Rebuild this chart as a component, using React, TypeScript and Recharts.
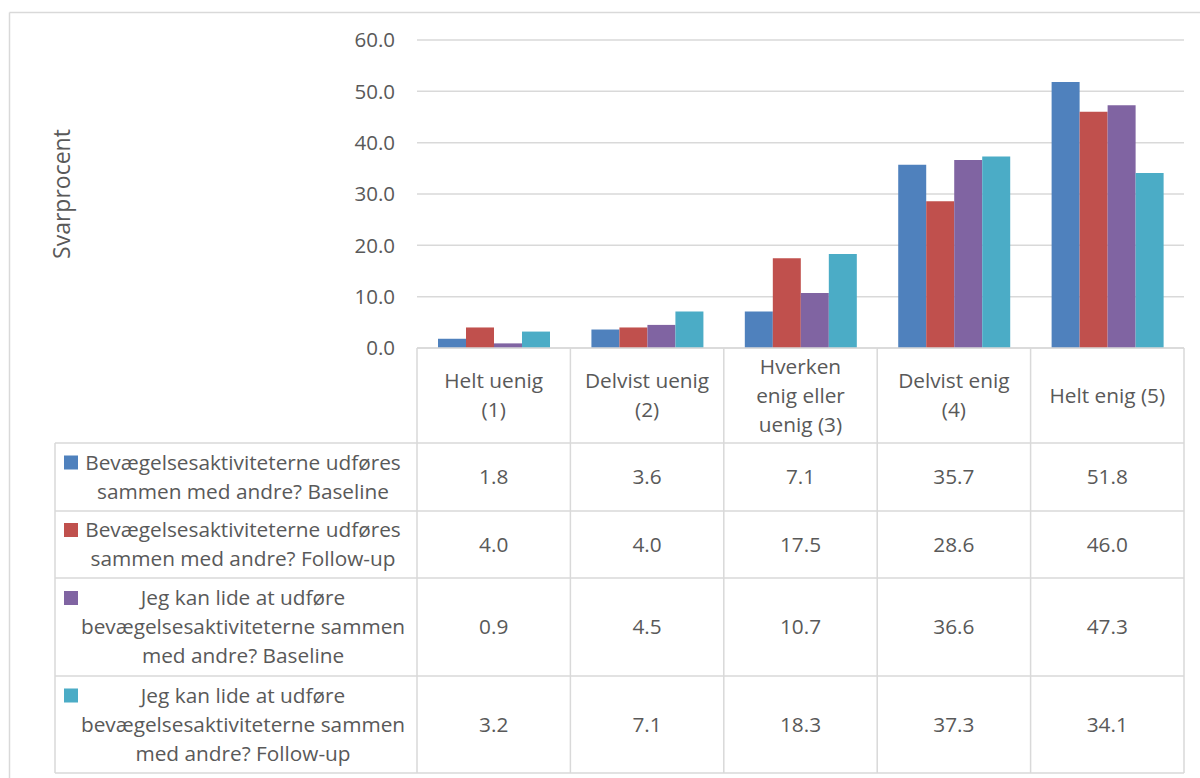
import React from 'react';
import { BarChart, Bar, XAxis, YAxis, CartesianGrid } from 'recharts';

// answer categories (x axis) and how they wrap in the table header
const categories = ['Helt uenig (1)', 'Delvist uenig (2)', 'Hverken enig eller uenig (3)', 'Delvist enig (4)', 'Helt enig (5)'];
const categoryLines = [['Helt uenig', '(1)'], ['Delvist uenig', '(2)'], ['Hverken', 'enig eller', 'uenig (3)'], ['Delvist enig', '(4)'], ['Helt enig (5)']];

// series values, in percent
const togetherBaseline = [1.8, 3.6, 7.1, 35.7, 51.8];
const togetherFollowUp = [4.0, 4.0, 17.5, 28.6, 46.0];
const likeBaseline = [0.9, 4.5, 10.7, 36.6, 47.3];
const likeFollowUp = [3.2, 7.1, 18.3, 37.3, 34.1];

const seriesNames = [
  'Bevægelsesaktiviteterne udføres sammen med andre? Baseline',
  'Bevægelsesaktiviteterne udføres sammen med andre? Follow-up',
  'Jeg kan lide at udføre bevægelsesaktiviteterne sammen med andre? Baseline',
  'Jeg kan lide at udføre bevægelsesaktiviteterne sammen med andre? Follow-up',
];
const seriesLines = [
  ['Bevægelsesaktiviteterne udføres', 'sammen med andre? Baseline'],
  ['Bevægelsesaktiviteterne udføres', 'sammen med andre? Follow-up'],
  ['Jeg kan lide at udføre', 'bevægelsesaktiviteterne sammen', 'med andre? Baseline'],
  ['Jeg kan lide at udføre', 'bevægelsesaktiviteterne sammen', 'med andre? Follow-up'],
];

const yTicks = [0, 10, 20, 30, 40, 50, 60];
const yTitle = 'Svarprocent';

const series = [
  { key: 's1', values: togetherBaseline, color: '#4F81BD' },
  { key: 's2', values: togetherFollowUp, color: '#C0504D' },
  { key: 's3', values: likeBaseline, color: '#8064A2' },
  { key: 's4', values: likeFollowUp, color: '#4BACC6' },
];

const data = categories.map((name, i) => {
  const row: any = { name };
  series.forEach(s => { row[s.key] = s.values[i]; });
  return row;
});

// layout
const W = 1200;
const H = 778;
const PLOT_L = 417;
const PLOT_R = 1184;
const PLOT_T = 40;
const PLOT_B = 348;
const COL_W = (PLOT_R - PLOT_L) / categories.length;
const ROWS = [PLOT_B, 443, 511, 578, 676, 773];
const LEG_L = 55;
const LINE_H = 29;
const GRID = '#D9D9D9';
const TEXT = '#595959';
const FONT = 20.8;
const FAMILY = '"Open Sans", sans-serif';

const centered = (lines: string[], cy: number) =>
  lines.map((l, k) => ({ text: l, y: cy + (k - (lines.length - 1) / 2) * LINE_H }));

const ColumnTick = (props: any) => {
  const { x, payload } = props;
  const i = props.index ?? categories.indexOf(payload.value);
  const half = COL_W / 2;
  const header = centered(categoryLines[i], (ROWS[0] + ROWS[1]) / 2);
  return (
    <g>
      <line x1={x - half} x2={x - half} y1={ROWS[0]} y2={ROWS[5]} stroke={GRID} strokeWidth={1.5} />
      {i === categories.length - 1 && (
        <line x1={x + half} x2={x + half} y1={ROWS[0]} y2={ROWS[5]} stroke={GRID} strokeWidth={1.5} />
      )}
      {header.map((l, k) => (
        <text key={k} x={x} y={l.y} dy="0.35em" textAnchor="middle" fill={TEXT} fontSize={FONT}>{l.text}</text>
      ))}
      {series.map((s, r) => (
        <text key={s.key} x={x} y={(ROWS[r + 1] + ROWS[r + 2]) / 2} dy="0.35em" textAnchor="middle" fill={TEXT} fontSize={FONT}>
          {s.values[i].toFixed(1)}
        </text>
      ))}
    </g>
  );
};

const ValueTick = (props: any) => (
  <text x={395} y={props.y} dy="0.35em" textAnchor="end" fill={TEXT} fontSize={20.5}>
    {Number(props.payload.value).toFixed(1)}
  </text>
);

const App = () => {
  return (
    <div style={{ position: 'absolute', left: 0, top: 0, width: W, height: H, background: '#fff', fontFamily: FAMILY }}>
      <BarChart
        width={W}
        height={H}
        data={data}
        margin={{ top: PLOT_T, right: W - PLOT_R, bottom: 0, left: PLOT_L - 60 }}
        barCategoryGap="13.7%"
        barGap={0}
      >
        <CartesianGrid vertical={false} stroke={GRID} strokeWidth={1.5} />
        <XAxis
          dataKey="name"
          height={H - PLOT_B}
          interval={0}
          tickLine={false}
          axisLine={{ stroke: GRID, strokeWidth: 1.5 }}
          tick={ColumnTick}
        />
        <YAxis
          width={60}
          domain={[0, 60]}
          ticks={yTicks}
          axisLine={false}
          tickLine={false}
          tick={ValueTick}
        />
        {series.map((s, i) => (
          <Bar key={s.key} dataKey={s.key} name={seriesNames[i]} fill={s.color} isAnimationActive={false} />
        ))}
      </BarChart>
      <svg width={W} height={H} style={{ position: 'absolute', left: 0, top: 0, pointerEvents: 'none' }}>
        <line x1={9.5} x2={W} y1={12.5} y2={12.5} stroke={GRID} strokeWidth={1.5} />
        <line x1={9.5} x2={9.5} y1={12.5} y2={H} stroke={GRID} strokeWidth={1.5} />
        <text
          x={0}
          y={0}
          transform={`translate(62, ${(PLOT_T + PLOT_B) / 2}) rotate(-90)`}
          textAnchor="middle"
          dy="0.35em"
          fill={TEXT}
          fontSize={23}
          fontFamily={FAMILY}
        >
          {yTitle}
        </text>
        {ROWS.slice(1).map((y, k) => (
          <line key={k} x1={LEG_L} x2={PLOT_R} y1={y} y2={y} stroke={GRID} strokeWidth={1.5} />
        ))}
        <line x1={LEG_L} x2={LEG_L} y1={ROWS[1]} y2={ROWS[5]} stroke={GRID} strokeWidth={1.5} />
        {series.map((s, r) => {
          const cy = (ROWS[r + 1] + ROWS[r + 2]) / 2;
          const lines = centered(seriesLines[r], cy);
          return (
            <g key={s.key}>
              <rect x={64} y={lines[0].y - 7} width={14} height={14} fill={s.color} />
              {lines.map((l, k) => (
                <text key={k} x={243} y={l.y} dy="0.35em" textAnchor="middle" fill={TEXT} fontSize={FONT}
                  fontFamily={FAMILY}>
                  {l.text}
                </text>
              ))}
            </g>
          );
        })}
      </svg>
    </div>
  );
};

export default App;
